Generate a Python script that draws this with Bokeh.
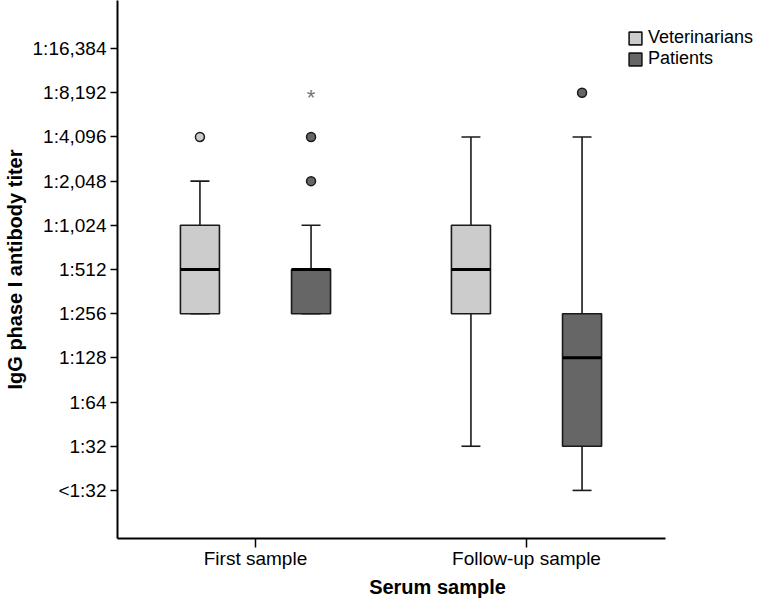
from bokeh.plotting import figure
from bokeh.models import FixedTicker, Legend, LegendItem
from bokeh.core.properties import value
from bokeh.embed import file_html
from bokeh.resources import INLINE

# ---------------- data (titers; "<1:32" coded as 16) ----------------
groups = ["First sample", "Follow-up sample"]
series = ["Veterinarians", "Patients"]
y_ticks = [16, 32, 64, 128, 256, 512, 1024, 2048, 4096, 8192, 16384]
y_tick_labels = ["<1:32", "1:32", "1:64", "1:128", "1:256", "1:512",
                 "1:1,024", "1:2,048", "1:4,096", "1:8,192", "1:16,384"]

vet_lower = [256, 32]
vet_q1 = [256, 256]
vet_median = [512, 512]
vet_q3 = [1024, 1024]
vet_upper = [2048, 4096]

pat_lower = [256, 16]
pat_q1 = [256, 32]
pat_median = [512, 128]
pat_q3 = [512, 256]
pat_upper = [1024, 4096]

vet_outlier_group = [0]
vet_outlier_titer = [4096]
pat_outlier_group = [0, 0, 1]
pat_outlier_titer = [2048, 4096, 8192]
pat_extreme_group = [0]
pat_extreme_titer = [8192]

# ---------------- styling / layout ----------------
FONT = "Liberation Sans"
VET_COLOR = "#cccccc"
PAT_COLOR = "#666666"
EDGE = "#1a1a1a"
OFFSET = 0.205
BOX_W = 0.144
CAP_W = 0.07

p = figure(width=757, height=603, x_range=(0.4908, 2.8524), y_range=(7.526, 34830),
           y_axis_type="log", output_backend="svg", toolbar_location=None,
           min_border_left=117, min_border_right=0, min_border_top=0, min_border_bottom=65)
p.outline_line_color = None
p.grid.visible = False
p.background_fill_color = "white"
p.border_fill_color = "white"


def draw_series(offset, lower, q1, med, q3, upper, color):
    xs = [i + 1 + offset for i in range(len(groups))]
    # whiskers
    p.segment(x0=xs, y0=q3, x1=xs, y1=upper, line_color=EDGE, line_width=1.6)
    p.segment(x0=xs, y0=q1, x1=xs, y1=lower, line_color=EDGE, line_width=1.6)
    p.segment(x0=[x - CAP_W / 2 for x in xs], y0=upper, x1=[x + CAP_W / 2 for x in xs], y1=upper,
              line_color=EDGE, line_width=1.6)
    p.segment(x0=[x - CAP_W / 2 for x in xs], y0=lower, x1=[x + CAP_W / 2 for x in xs], y1=lower,
              line_color=EDGE, line_width=1.6)
    box = p.vbar(x=xs, width=BOX_W, bottom=q1, top=q3, fill_color=color,
                 line_color=EDGE, line_width=1.6)
    p.segment(x0=[x - BOX_W / 2 for x in xs], y0=med, x1=[x + BOX_W / 2 for x in xs], y1=med,
              line_color="black", line_width=3)
    return box


vet_box = draw_series(-OFFSET, vet_lower, vet_q1, vet_median, vet_q3, vet_upper, VET_COLOR)
pat_box = draw_series(OFFSET, pat_lower, pat_q1, pat_median, pat_q3, pat_upper, PAT_COLOR)

p.scatter(x=[g + 1 - OFFSET for g in vet_outlier_group], y=vet_outlier_titer, size=9,
          fill_color=VET_COLOR, line_color=EDGE, line_width=1.5)
p.scatter(x=[g + 1 + OFFSET for g in pat_outlier_group], y=pat_outlier_titer, size=9,
          fill_color=PAT_COLOR, line_color=EDGE, line_width=1.5)
p.text(x=[g + 1 + OFFSET for g in pat_extreme_group], y=pat_extreme_titer, text=["*"] * len(pat_extreme_group),
       text_font=value(FONT), text_font_size="22px", text_color="#777777",
       text_align="center", text_baseline="middle", y_offset=5)

# ---------------- axes ----------------
yax = p.yaxis[0]
yax.ticker = FixedTicker(ticks=y_ticks)
yax.major_label_overrides = {t: l for t, l in zip(y_ticks, y_tick_labels)}
yax.axis_label = "IgG phase I antibody titer"
xax = p.xaxis[0]
xax.ticker = FixedTicker(ticks=[i + 1 for i in range(len(groups))])
xax.major_label_overrides = {i + 1: g for i, g in enumerate(groups)}
xax.axis_label = "Serum sample"
xax.bounds = (0.4908, 2.513)

for ax in (xax, yax):
    ax.axis_line_width = 2
    ax.axis_line_color = "black"
    ax.major_tick_line_color = "black"
    ax.major_tick_line_width = 1.5
    ax.major_tick_in = 0
    ax.minor_tick_line_color = None
    ax.major_label_text_font = FONT
    ax.major_label_text_font_size = "19px"
    ax.major_label_text_color = "black"
    ax.axis_label_text_font = FONT
    ax.axis_label_text_font_size = "20px"
    ax.axis_label_text_font_style = "bold"
    ax.axis_label_text_color = "black"

yax.major_tick_out = 7
yax.major_label_standoff = 4
yax.axis_label_standoff = 4
xax.major_tick_out = 9
xax.major_label_standoff = 0
xax.axis_label_standoff = 4

legend = Legend(items=[LegendItem(label=series[0], renderers=[vet_box]),
                       LegendItem(label=series[1], renderers=[pat_box])],
                location=(510, 469), glyph_width=16, glyph_height=16, label_standoff=5,
                padding=0, margin=0, spacing=0, border_line_alpha=0, background_fill_alpha=0,
                label_text_font=FONT, label_text_font_size="18px", label_height=18,
                label_text_color="black")
p.add_layout(legend)

open("out.html", "w").write(file_html(p, INLINE))
